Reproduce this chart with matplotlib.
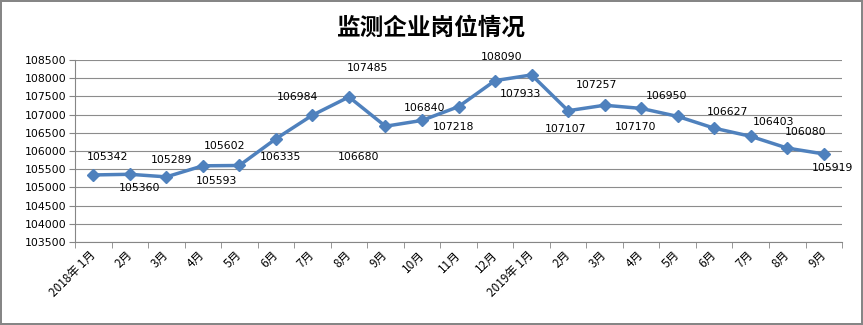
"""plot.py

监测企业岗位情况 - 折线图 (2018年1月 ~ 2019年9月)
"""

import matplotlib
matplotlib.use('Agg')
import matplotlib.pyplot as plt

plt.rcParams['font.family'] = ['Noto Sans CJK SC', 'DejaVu Sans']

# 数据
months = ['2018年 1月', '2月', '3月', '4月', '5月', '6月', '7月', '8月', '9月', '10月',
          '11月', '12月', '2019年 1月', '2月', '3月', '4月', '5月', '6月', '7月', '8月', '9月']
jobs = [105342, 105360, 105289, 105593, 105602, 106335, 106984, 107485, 106680, 106840,
        107218, 107933, 108090, 107107, 107257, 107170, 106950, 106627, 106403, 106080, 105919]
y_ticks = list(range(103500, 108501, 500))

# 标签相对数据点的偏移(像素)
label_dx = [14, 10, 5, 14, -15, 5, -15, 19, -27, 3, -5, 25, -30, -3, -8, -6, -11, 13, 23, 18, 9]
label_dy = [18, -14, 17, -15, 19, -18, 18, 29, -31, 12, -20, -13, 18, -18, 20, -19, 20, 16, 14, 16, -14]

fig = plt.figure(figsize=(8.63, 3.25), dpi=100, linewidth=1.5, edgecolor='#868686')
ax = fig.add_axes([0.0869, 0.2554, 0.8888, 0.56])

x = list(range(len(months)))
ax.plot(x, jobs, color='#4F81BD', linewidth=2.5, marker='D', markersize=6,
        markerfacecolor='#4F81BD', markeredgecolor='#4F81BD')

for xi, v, dx, dy in zip(x, jobs, label_dx, label_dy):
	ax.annotate(str(v), (xi, v), xytext=(dx, dy), textcoords='offset pixels',
				ha='center', va='center', fontsize=7.8, family='DejaVu Sans')

ax.set_xlim(-0.5, len(months) - 0.5)
ax.set_ylim(103500, 108500)
ax.set_yticks(y_ticks)
ax.set_yticklabels([str(t) for t in y_ticks], fontsize=7.8, family='DejaVu Sans')
ax.grid(True, axis='y', color='#8c8c8c', linewidth=0.8)
ax.set_axisbelow(True)

# x 轴: 刻度线在类别之间, 标签在类别中心
ax.set_xticks(x)
ax.set_xticklabels(months, fontsize=8.5, rotation=45, ha='right', va='center',
				   rotation_mode='anchor')
ax.set_xticks([i - 0.5 for i in range(len(months) + 1)], minor=True)
ax.tick_params(axis='x', which='major', length=0, pad=8)
ax.tick_params(axis='x', which='minor', length=4, color='#868686', direction='out')
ax.tick_params(axis='y', length=4, color='#868686', pad=2)

for side in ['top', 'right']:
	ax.spines[side].set_visible(False)
for side in ['left', 'bottom']:
	ax.spines[side].set_color('#868686')

fig.text(0.5, 0.915, '监测企业岗位情况', ha='center', va='center',
		 fontsize=17, fontweight='bold')

fig.savefig('out.png', dpi=100)
plt.close(fig)
